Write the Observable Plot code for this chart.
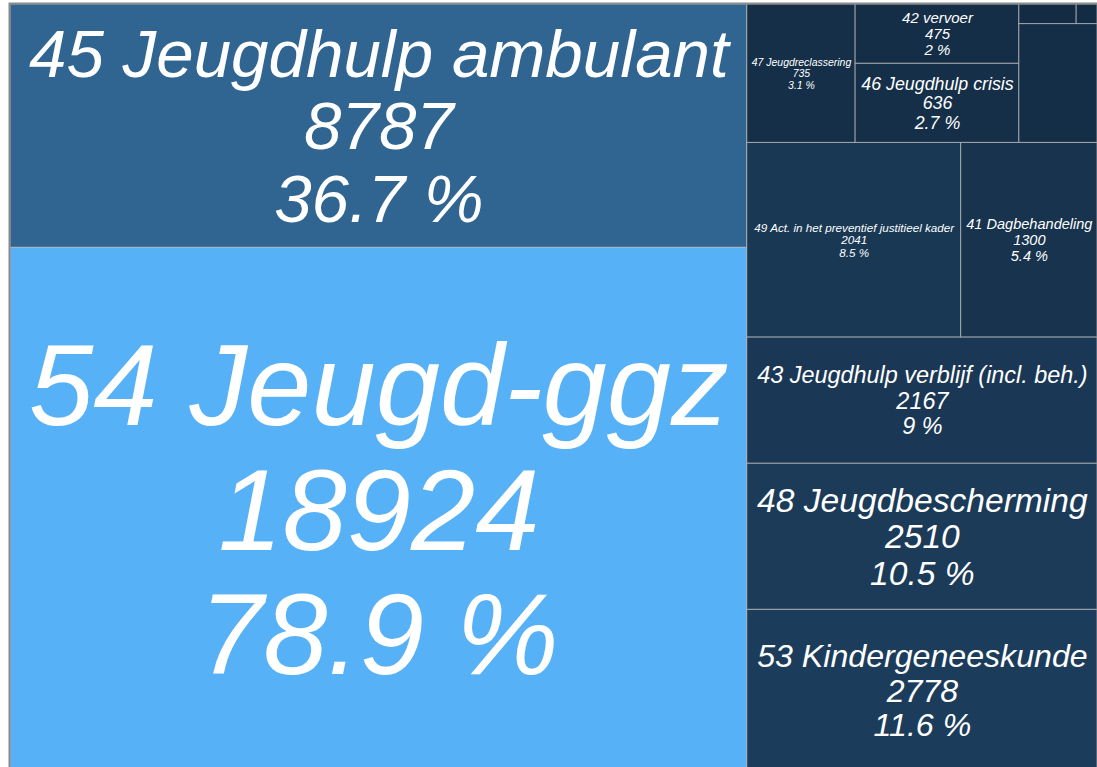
<!DOCTYPE html>
<html>
<head>
<meta charset="utf-8">
<script src="https://cdn.jsdelivr.net/npm/d3@7"></script>
<script src="https://cdn.jsdelivr.net/npm/@observablehq/plot@0.6"></script>
<style>
  html, body { margin: 0; padding: 0; background: #ffffff; overflow: hidden; }
  #chart svg { display: block; }
</style>
</head>
<body>
<div id="chart"></div>
<script>
// ---- data ----
const codes  = ["54", "45", "53", "48", "43", "49", "41", "47", "46", "42", "", "", ""];
const names  = ["Jeugd-ggz", "Jeugdhulp ambulant", "Kindergeneeskunde", "Jeugdbescherming",
                "Jeugdhulp verblijf (incl. beh.)", "Act. in het preventief justitieel kader",
                "Dagbehandeling", "Jeugdreclassering", "Jeugdhulp crisis", "vervoer", "", "", ""];
const values = [18924, 8787, 2778, 2510, 2167, 2041, 1300, 735, 636, 475, 455, 55, 20];
const pcts   = ["78.9", "36.7", "11.6", "10.5", "9", "8.5", "5.4", "3.1", "2.7", "2", "", "", ""];
// nesting of the tiles (groups of the treemap layout)
const leafGroup    = ["A", "A", "B", "B", "B", "C", "C", "D", "E", "E", "F", "G", "G"];
const groupIds     = ["A", "B", "C", "D", "E", "F", "G"];
const groupParents = ["root", "root", "B", "B", "D", "D", "F"];

// ---- build hierarchy ----
const parentOf = new Map(groupIds.map((g, i) => [g, groupParents[i]]));
const nodes = new Map([["root", {id: "root", children: []}]]);
function getNode(g) {
  if (!nodes.has(g)) {
    const n = {id: g, children: []};
    nodes.set(g, n);
    getNode(parentOf.get(g)).children.push(n);
  }
  return nodes.get(g);
}
codes.forEach((c, i) => {
  getNode(leafGroup[i]).children.push({
    code: c, name: names[i], value: values[i], pct: pcts[i]
  });
});
const root = d3.hierarchy(nodes.get("root")).sum(d => d.value || 0);
d3.treemap().tile(d3.treemapSliceDice).size([1, 1]).round(false)(root);
const leaves = root.leaves().map(l => ({...l.data, x0: l.x0, x1: l.x1, y0: l.y0, y1: l.y1}));

// ---- plot geometry (the treemap runs a little past the bottom edge) ----
const W = 1097, H = 767, mL = 10, mT = 4, mR = 0, mB = -4;
const pw = W - mL - mR, ph = H - mT - mB;
const lineHeight = 1.08;

// text fitting
const ctx = document.createElement("canvas").getContext("2d");
ctx.font = "italic 100px 'Liberation Sans'";
const em = s => ctx.measureText(s).width / 100;

const labeled = leaves.filter(d => d.code !== "").map(d => {
  const lines = [`${d.code} ${d.name}`, `${d.value}`, `${d.pct} %`];
  const w = (d.x1 - d.x0) * pw, h = (d.y1 - d.y0) * ph;
  const maxEm = d3.max(lines, em);
  const fs = Math.min(0.955 * (w - 4) / maxEm, (h - 8) / (lines.length * lineHeight * 1.05));
  return {...d, label: lines.join("\n"), fs, cx: (d.x0 + d.x1) / 2, cy: (d.y0 + d.y1) / 2};
});

const chart = Plot.plot({
  width: W, height: H,
  marginLeft: mL, marginTop: mT, marginRight: mR, marginBottom: mB,
  x: {domain: [0, 1], axis: null},
  y: {domain: [0, 1], axis: null},
  color: {type: "linear", range: ["#132B43", "#56B1F7"], interpolate: d3.interpolateLab},
  marks: [
    Plot.rect(leaves, {
      x1: "x0", x2: "x1", y1: "y0", y2: "y1",
      fill: "value", stroke: "#bebebe", strokeOpacity: 0.7, strokeWidth: 1
    }),
    Plot.text(labeled, {
      x: "cx", y: "cy", text: "label",
      fontSize: d => d.fs, lineHeight, lineAnchor: "middle", textAnchor: "middle",
      fill: "white", fontStyle: "italic", fontFamily: "'Liberation Sans', Arial, sans-serif"
    }),
    Plot.frame({stroke: "#8a8a8a", strokeWidth: 2, inset: -1})
  ]
});
document.getElementById("chart").appendChild(chart);
</script>
</body>
</html>
